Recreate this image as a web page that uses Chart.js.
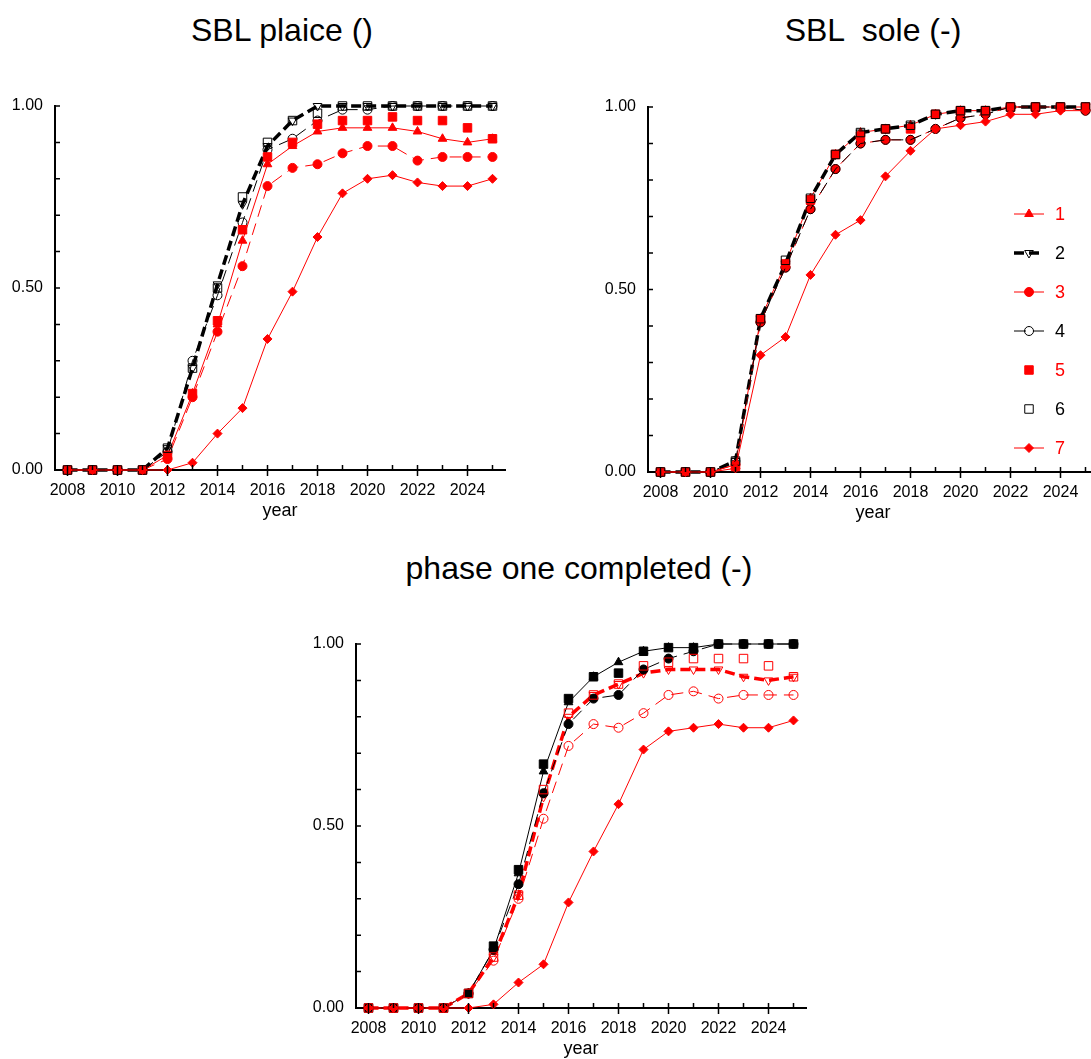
<!DOCTYPE html>
<html>
<head>
<meta charset="utf-8">
<script src="https://cdn.jsdelivr.net/npm/chart.js@4.4.1/dist/chart.umd.min.js"></script>
<style>
  html, body { margin: 0; padding: 0; background: #fff; overflow: hidden; width: 1091px; height: 1059px; }
  .panel { position: absolute; }
  .title {
    position: absolute; width: 500px; text-align: center; white-space: pre;
    font-family: "Liberation Sans", Arial, sans-serif; font-size: 32px; line-height: 40px; color: #000;
  }
</style>
</head>
<body>
<div class="title" style="left:32px; top:10px;">SBL plaice ()</div>
<div class="title" style="left:623px; top:10px;">SBL  sole (-)</div>
<div class="title" style="left:329px; top:548px;">phase one completed (-)</div>

<canvas id="plaice" class="panel" width="560" height="470" style="left:0px; top:60px;"></canvas>
<canvas id="sole" class="panel" width="515" height="470" style="left:593px; top:60px;"></canvas>
<canvas id="phase" class="panel" width="560" height="470" style="left:301px; top:600px;"></canvas>

<script>
// Years on the x axis
const years = [2008, 2009, 2010, 2011, 2012, 2013, 2014, 2015, 2016, 2017, 2018, 2019, 2020, 2021, 2022, 2023, 2024, 2025];
const labelledYears = [2008, 2010, 2012, 2014, 2016, 2018, 2020, 2022, 2024];
const yTicks = [0, 0.1, 0.2, 0.3, 0.4, 0.5, 0.6, 0.7, 0.8, 0.9, 1.0];
const yTickLabels = [0, 0.5, 1.0];
const seriesNames = ['1', '2', '3', '4', '5', '6', '7'];

// SBL plaice
const plaice1 = [0, 0, 0, 0, 0.04, 0.21, 0.40, 0.63, 0.84, 0.89, 0.93, 0.94, 0.94, 0.94, 0.93, 0.91, 0.90, 0.91];
const plaice2 = [0, 0, 0, 0, 0.06, 0.28, 0.51, 0.73, 0.89, 0.96, 1.00, 1.00, 1.00, 1.00, 1.00, 1.00, 1.00, 1.00];
const plaice3 = [0, 0, 0, 0, 0.03, 0.20, 0.38, 0.56, 0.78, 0.83, 0.84, 0.87, 0.89, 0.89, 0.85, 0.86, 0.86, 0.86];
const plaice4 = [0, 0, 0, 0, 0.05, 0.30, 0.48, 0.68, 0.88, 0.91, 0.96, 0.99, 0.99, 1.00, 1.00, 1.00, 1.00, 1.00];
const plaice5 = [0, 0, 0, 0, 0.04, 0.21, 0.41, 0.66, 0.86, 0.90, 0.95, 0.96, 0.96, 0.97, 0.96, 0.96, 0.94, 0.91];
const plaice6 = [0, 0, 0, 0, 0.06, 0.28, 0.50, 0.75, 0.90, 0.96, 0.98, 1.00, 1.00, 1.00, 1.00, 1.00, 1.00, 1.00];
const plaice7 = [0, 0, 0, 0, 0.00, 0.02, 0.10, 0.17, 0.36, 0.49, 0.64, 0.76, 0.80, 0.81, 0.79, 0.78, 0.78, 0.80];

// SBL sole
const sole1 = [0, 0, 0, 0.02, 0.42, 0.57, 0.75, 0.87, 0.93, 0.94, 0.95, 0.98, 0.99, 0.99, 1.00, 1.00, 1.00, 1.00];
const sole2 = [0, 0, 0, 0.03, 0.42, 0.57, 0.75, 0.87, 0.93, 0.94, 0.95, 0.98, 0.99, 0.99, 1.00, 1.00, 1.00, 1.00];
const sole3 = [0, 0, 0, 0.02, 0.41, 0.56, 0.72, 0.83, 0.90, 0.91, 0.91, 0.94, 0.97, 0.98, 1.00, 1.00, 1.00, 0.99];
const sole4 = [0, 0, 0, 0.03, 0.41, 0.56, 0.72, 0.83, 0.90, 0.91, 0.91, 0.94, 0.97, 0.98, 1.00, 1.00, 1.00, 0.99];
const sole5 = [0, 0, 0, 0.015, 0.42, 0.57, 0.745, 0.87, 0.92, 0.94, 0.94, 0.98, 0.99, 0.99, 1.00, 1.00, 1.00, 1.00];
const sole6 = [0, 0, 0, 0.03, 0.42, 0.58, 0.75, 0.87, 0.93, 0.94, 0.95, 0.98, 0.99, 0.99, 1.00, 1.00, 1.00, 1.00];
const sole7 = [0, 0, 0, 0.01, 0.32, 0.37, 0.54, 0.65, 0.69, 0.81, 0.88, 0.94, 0.95, 0.96, 0.98, 0.98, 0.99, 0.99];

// phase one completed
const phase1 = [0, 0, 0, 0, 0.04, 0.16, 0.37, 0.65, 0.84, 0.91, 0.95, 0.98, 0.99, 0.99, 1.00, 1.00, 1.00, 1.00];
const phase2 = [0, 0, 0, 0, 0.04, 0.14, 0.31, 0.58, 0.80, 0.86, 0.89, 0.92, 0.93, 0.93, 0.93, 0.91, 0.90, 0.91];
const phase3 = [0, 0, 0, 0, 0.04, 0.16, 0.34, 0.59, 0.78, 0.85, 0.86, 0.93, 0.96, 0.98, 1.00, 1.00, 1.00, 1.00];
const phase4 = [0, 0, 0, 0, 0.04, 0.13, 0.30, 0.52, 0.72, 0.78, 0.77, 0.81, 0.86, 0.87, 0.85, 0.86, 0.86, 0.86];
const phase5 = [0, 0, 0, 0, 0.04, 0.17, 0.38, 0.67, 0.85, 0.91, 0.92, 0.98, 0.99, 0.99, 1.00, 1.00, 1.00, 1.00];
const phase6 = [0, 0, 0, 0, 0.04, 0.14, 0.31, 0.60, 0.81, 0.86, 0.89, 0.94, 0.95, 0.96, 0.96, 0.96, 0.94, 0.91];
const phase7 = [0, 0, 0, 0, 0.00, 0.01, 0.07, 0.12, 0.29, 0.43, 0.56, 0.71, 0.76, 0.77, 0.78, 0.77, 0.77, 0.79];

const RED = '#ff0000';
const BLACK = '#000000';
const NONE = 'rgba(0,0,0,0)';
const FONT = '"Liberation Sans", Arial, sans-serif';

// Line and marker style of each of the seven series (colour is set per panel)
const seriesStyle = [
  { line: true,  width: 1,   dash: [],      marker: 'triangle', rot: 0,   radius: 5,   filled: true  },
  { line: true,  width: 3.5, dash: [10, 5], marker: 'triangle', rot: 180, radius: 5,   filled: false },
  { line: true,  width: 1,   dash: [12, 7], marker: 'circle',   rot: 0,   radius: 4.5, filled: true  },
  { line: true,  width: 1,   dash: [12, 7], marker: 'circle',   rot: 0,   radius: 4.5, filled: false },
  { line: false, width: 1,   dash: [],      marker: 'rect',     rot: 0,   radius: 6,   filled: true  },
  { line: false, width: 1,   dash: [],      marker: 'rect',     rot: 0,   radius: 6,   filled: false },
  { line: true,  width: 1,   dash: [],      marker: 'rectRot',  rot: 0,   radius: 4.5, filled: true  }
];

function buildDatasets(seriesList, colours) {
  return seriesList.map((vals, i) => {
    const st = seriesStyle[i];
    const c = colours[i];
    return {
      label: seriesNames[i],
      data: years.map((yr, k) => ({ x: yr, y: vals[k] })),
      borderColor: c,
      backgroundColor: st.filled ? c : NONE,
      borderWidth: st.width,
      borderDash: st.dash,
      showLine: st.line,
      tension: 0,
      pointStyle: st.marker,
      pointRotation: st.rot,
      pointRadius: st.radius,
      pointBorderWidth: 1,
      pointBorderColor: c,
      pointBackgroundColor: st.filled ? c : NONE,
      clip: false,
      order: 10 - i
    };
  });
}

// Inward tick marks on both axes; labelled years also get a tick below the x axis
const axisTicks = {
  id: 'axisTicks',
  afterDraw(chart) {
    const { ctx, chartArea } = chart;
    const xs = chart.scales.x, ys = chart.scales.y;
    ctx.save();
    ctx.strokeStyle = BLACK;
    ctx.lineWidth = 1.5;
    ctx.setLineDash([]);
    ctx.beginPath();
    const yb = chartArea.bottom;
    years.forEach(yr => {
      const px = xs.getPixelForValue(yr);
      ctx.moveTo(px, yb - 5);
      ctx.lineTo(px, labelledYears.includes(yr) ? yb + 6 : yb);
    });
    const xl = chartArea.left;
    yTicks.forEach(v => {
      const py = ys.getPixelForValue(v);
      ctx.moveTo(xl, py);
      ctx.lineTo(xl + 5, py);
    });
    ctx.stroke();
    ctx.restore();
  }
};

// Series key drawn inside the plot area
const seriesKey = {
  id: 'seriesKey',
  afterDraw(chart, args, opts) {
    if (!opts || !opts.show) return;
    const ctx = chart.ctx;
    chart.data.datasets.forEach((ds, i) => {
      const y = opts.y + i * opts.gap;
      const x = opts.x;
      ctx.save();
      if (ds.showLine !== false) {
        ctx.strokeStyle = ds.borderColor;
        ctx.lineWidth = ds.borderWidth;
        ctx.setLineDash(ds.borderDash || []);
        ctx.beginPath();
        ctx.moveTo(x - 15, y);
        ctx.lineTo(x + 15, y);
        ctx.stroke();
      }
      ctx.setLineDash([]);
      ctx.strokeStyle = ds.pointBorderColor;
      ctx.fillStyle = ds.pointBackgroundColor;
      ctx.lineWidth = 1;
      Chart.helpers.drawPoint(ctx, {
        pointStyle: ds.pointStyle, rotation: ds.pointRotation,
        radius: ds.pointRadius, borderWidth: 1
      }, x, y);
      ctx.fillStyle = ds.borderColor;
      ctx.font = '18px ' + FONT;
      ctx.textBaseline = 'middle';
      ctx.textAlign = 'left';
      ctx.fillText(ds.label, x + 26, y + 1);
      ctx.restore();
    });
  }
};

function makePanel(id, datasets, xMax, padding, key) {
  return new Chart(document.getElementById(id), {
    type: 'line',
    data: { datasets },
    plugins: [axisTicks, seriesKey],
    options: {
      responsive: false,
      animation: false,
      devicePixelRatio: 1,
      layout: { padding },
      plugins: {
        legend: { display: false },
        tooltip: { enabled: false },
        seriesKey: key
      },
      scales: {
        x: {
          type: 'linear',
          min: 2007.5,
          max: xMax,
          afterBuildTicks: s => { s.ticks = years.map(v => ({ value: v })); },
          afterFit: s => { s.height = 52; },
          grid: { display: false, drawTicks: false },
          border: { display: true, color: BLACK, width: 2 },
          ticks: {
            autoSkip: false, maxRotation: 0, padding: 11, color: BLACK,
            font: { family: FONT, size: 16 },
            callback: v => labelledYears.includes(v) ? String(v) : ''
          },
          title: { display: true, text: 'year', color: BLACK, font: { family: FONT, size: 18 }, padding: { top: 0, bottom: 0 } }
        },
        y: {
          type: 'linear',
          min: 0,
          max: 1,
          afterBuildTicks: s => { s.ticks = yTicks.map(v => ({ value: v })); },
          afterFit: s => { s.width = 55; },
          grid: { display: false, drawTicks: false },
          border: { display: true, color: BLACK, width: 2 },
          ticks: {
            autoSkip: false, padding: 12, color: BLACK,
            font: { family: FONT, size: 16 },
            callback: v => yTickLabels.some(t => Math.abs(t - v) < 1e-6) ? v.toFixed(2) : ''
          }
        }
      }
    }
  });
}

const topColours = [RED, BLACK, RED, BLACK, RED, BLACK, RED];
const bottomColours = [BLACK, RED, BLACK, RED, BLACK, RED, RED];

makePanel('plaice',
  buildDatasets([plaice1, plaice2, plaice3, plaice4, plaice5, plaice6, plaice7], topColours),
  2025.5, { left: 0, top: 46, right: 55, bottom: 8 }, { show: false });

makePanel('sole',
  buildDatasets([sole1, sole2, sole3, sole4, sole5, sole6, sole7], topColours),
  2025.5, { left: 0, top: 47, right: 10, bottom: 6 }, { show: true, x: 436, y: 154, gap: 39 });

makePanel('phase',
  buildDatasets([phase1, phase2, phase3, phase4, phase5, phase6, phase7], bottomColours),
  2025.5, { left: 0, top: 44, right: 55, bottom: 10 }, { show: false });
</script>
</body>
</html>
